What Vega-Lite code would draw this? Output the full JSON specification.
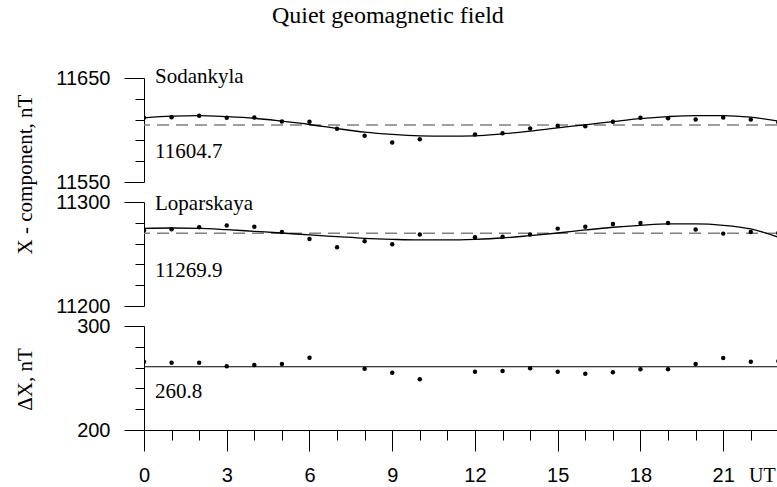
{
  "$schema": "https://vega.github.io/schema/vega-lite/v6.json",
  "autosize": {"type": "pad"},
  "padding": {"left": 14, "top": 4, "right": 0, "bottom": 0},
  "background": "white",
  "title": {"text": "Quiet geomagnetic field", "font": "Liberation Serif", "fontSize": 24, "fontWeight": "normal", "color": "black", "anchor": "middle", "dx": -8, "offset": 38},
  "bounds": "flush",
  "spacing": 20,
  "config": {
    "view": {"stroke": null},
    "axis": {"grid": false, "domainColor": "black", "tickColor": "black", "labelColor": "black", "titleColor": "black", "labelFont": "Liberation Sans", "labelFontSize": 20, "titleFont": "Liberation Serif", "titleFontSize": 21, "titleFontWeight": "normal", "labelOverlap": false, "labelFlush": false, "tickCount": 100}
  },
  "datasets": {
    "sod": [
      {"hour": 0, "value": 11611.7}, {"hour": 1, "value": 11612.3}, {"hour": 2, "value": 11613.6}, {"hour": 3, "value": 11611.7},
      {"hour": 4, "value": 11612.0}, {"hour": 5, "value": 11608.1}, {"hour": 6, "value": 11607.9}, {"hour": 7, "value": 11601.1},
      {"hour": 8, "value": 11594.4}, {"hour": 9, "value": 11588.0}, {"hour": 10, "value": 11591.2}, {"hour": 12, "value": 11595.7},
      {"hour": 13, "value": 11596.9}, {"hour": 14, "value": 11601.4}, {"hour": 15, "value": 11604.0}, {"hour": 16, "value": 11603.6},
      {"hour": 17, "value": 11607.9}, {"hour": 18, "value": 11611.7}, {"hour": 19, "value": 11611.3}, {"hour": 20, "value": 11610.1},
      {"hour": 21, "value": 11612.0}, {"hour": 22, "value": 11610.1}, {"hour": 23, "value": 11607.5}
    ],
    "sodfit": [
      {"hour": 0, "value": 11611.7}, {"hour": 1, "value": 11613.3}, {"hour": 2, "value": 11613.9}, {"hour": 3, "value": 11612.9},
      {"hour": 4, "value": 11611.3}, {"hour": 5, "value": 11608.5}, {"hour": 6, "value": 11605.3}, {"hour": 7, "value": 11601.4},
      {"hour": 8, "value": 11597.9}, {"hour": 9, "value": 11595.7}, {"hour": 10, "value": 11594.4}, {"hour": 11, "value": 11594.1},
      {"hour": 12, "value": 11594.4}, {"hour": 13, "value": 11596.3}, {"hour": 14, "value": 11598.9}, {"hour": 15, "value": 11602.1},
      {"hour": 16, "value": 11605.0}, {"hour": 17, "value": 11608.1}, {"hour": 18, "value": 11611.0}, {"hour": 19, "value": 11612.9},
      {"hour": 20, "value": 11613.9}, {"hour": 21, "value": 11613.9}, {"hour": 22, "value": 11612.3}, {"hour": 23, "value": 11608.5}
    ],
    "sodmean": [{"value": 11604.7}],
    "sodtext": [{"hour": 0, "value": 11644.9, "label": "Sodankyla"}, {"hour": 0, "value": 11572.8, "label": "11604.7"}],
    "lop": [
      {"hour": 0, "value": 11272.5}, {"hour": 1, "value": 11273.7}, {"hour": 2, "value": 11275.7}, {"hour": 3, "value": 11277.3},
      {"hour": 4, "value": 11276.3}, {"hour": 5, "value": 11271.2}, {"hour": 6, "value": 11264.4}, {"hour": 7, "value": 11256.4},
      {"hour": 8, "value": 11262.2}, {"hour": 9, "value": 11259.3}, {"hour": 10, "value": 11268.7}, {"hour": 12, "value": 11266.1},
      {"hour": 13, "value": 11266.7}, {"hour": 14, "value": 11268.7}, {"hour": 15, "value": 11274.4}, {"hour": 16, "value": 11276.3},
      {"hour": 17, "value": 11278.8}, {"hour": 18, "value": 11279.8}, {"hour": 19, "value": 11279.8}, {"hour": 20, "value": 11273.5},
      {"hour": 21, "value": 11269.6}, {"hour": 22, "value": 11271.2}, {"hour": 23, "value": 11270.2}
    ],
    "lopfit": [
      {"hour": 0, "value": 11274.7}, {"hour": 1, "value": 11275.0}, {"hour": 2, "value": 11274.7}, {"hour": 3, "value": 11273.4},
      {"hour": 4, "value": 11271.8}, {"hour": 5, "value": 11270.2}, {"hour": 6, "value": 11268.3}, {"hour": 7, "value": 11266.7},
      {"hour": 8, "value": 11265.1}, {"hour": 9, "value": 11264.1}, {"hour": 10, "value": 11263.5}, {"hour": 11, "value": 11263.5},
      {"hour": 12, "value": 11264.1}, {"hour": 13, "value": 11265.4}, {"hour": 14, "value": 11267.7}, {"hour": 15, "value": 11270.2},
      {"hour": 16, "value": 11273.1}, {"hour": 17, "value": 11275.7}, {"hour": 18, "value": 11277.6}, {"hour": 19, "value": 11278.9},
      {"hour": 20, "value": 11278.9}, {"hour": 21, "value": 11277.6}, {"hour": 22, "value": 11274.1}, {"hour": 23, "value": 11266.1}
    ],
    "lopmean": [{"value": 11269.9}],
    "loptext": [{"hour": 0, "value": 11292.3, "label": "Loparskaya"}, {"hour": 0, "value": 11228.3, "label": "11269.9"}],
    "dx": [
      {"hour": 0, "value": 265.7}, {"hour": 1, "value": 264.7}, {"hour": 2, "value": 264.7}, {"hour": 3, "value": 261.2},
      {"hour": 4, "value": 262.5}, {"hour": 5, "value": 263.5}, {"hour": 6, "value": 269.5}, {"hour": 8, "value": 258.9},
      {"hour": 9, "value": 255.1}, {"hour": 10, "value": 248.7}, {"hour": 12, "value": 256.1}, {"hour": 13, "value": 256.7},
      {"hour": 14, "value": 259.3}, {"hour": 15, "value": 256.1}, {"hour": 16, "value": 254.1}, {"hour": 17, "value": 255.5},
      {"hour": 18, "value": 258.4}, {"hour": 19, "value": 258.4}, {"hour": 20, "value": 263.5}, {"hour": 21, "value": 269.2},
      {"hour": 22, "value": 265.7}, {"hour": 23, "value": 266.3}
    ],
    "dxmean": [{"value": 260.8}],
    "dxtext": [{"hour": 0, "value": 230.5, "label": "260.8"}]
  },
  "vconcat": [
    {
      "width": 633, "height": 104,
      "layer": [
        {"data": {"name": "sodmean"}, "mark": {"type": "rule", "strokeDash": [12, 7], "color": "#808080", "strokeWidth": 1.5},
         "encoding": {"y": {"field": "value", "type": "quantitative", "scale": {"domain": [11550, 11650], "zero": false, "nice": false},
           "axis": {"values": [11550, 11570, 11590, 11610, 11630, 11650], "tickCount": 100, "format": "d", "labelOverlap": false,
             "labelExpr": "datum.value == 11550 || datum.value == 11650 ? datum.label : ''",
             "labelFontSize": {"condition": {"test": "datum.value == 11550 || datum.value == 11650", "value": 20}, "value": 0},
             "tickSize": {"condition": {"test": "datum.value == 11550 || datum.value == 11650", "value": 20}, "value": 9},
             "labelPadding": 14, "title": "X - component, nT", "titleX": -113, "titleY": 96, "titleAlign": "center", "titleBaseline": "alphabetic", "titleAngle": -90}}}},
        {"data": {"name": "sodfit"}, "mark": {"type": "line", "interpolate": "monotone", "color": "black", "strokeWidth": 1.3, "clip": true},
         "encoding": {"x": {"field": "hour", "type": "quantitative", "scale": {"domain": [0, 22.95], "nice": false}, "axis": null},
           "y": {"field": "value", "type": "quantitative"}}},
        {"data": {"name": "sod"}, "mark": {"type": "circle", "size": 20, "color": "black", "opacity": 1, "clip": true},
         "encoding": {"x": {"field": "hour", "type": "quantitative"}, "y": {"field": "value", "type": "quantitative"}}},
        {"data": {"name": "sodtext"}, "mark": {"type": "text", "align": "left", "baseline": "alphabetic", "dx": 11, "font": "Liberation Serif", "fontSize": 21, "color": "black"},
         "encoding": {"x": {"field": "hour", "type": "quantitative"}, "y": {"field": "value", "type": "quantitative"}, "text": {"field": "label"}}}
      ]
    },
    {
      "width": 633, "height": 104,
      "layer": [
        {"data": {"name": "lopmean"}, "mark": {"type": "rule", "strokeDash": [12, 7], "color": "#808080", "strokeWidth": 1.5},
         "encoding": {"y": {"field": "value", "type": "quantitative", "scale": {"domain": [11200, 11300], "zero": false, "nice": false},
           "axis": {"values": [11200, 11220, 11240, 11260, 11280, 11300], "tickCount": 100, "format": "d", "labelOverlap": false,
             "labelExpr": "datum.value == 11200 || datum.value == 11300 ? datum.label : ''",
             "labelFontSize": {"condition": {"test": "datum.value == 11200 || datum.value == 11300", "value": 20}, "value": 0},
             "tickSize": {"condition": {"test": "datum.value == 11200 || datum.value == 11300", "value": 20}, "value": 9},
             "labelPadding": 14, "title": null}}}},
        {"data": {"name": "lopfit"}, "mark": {"type": "line", "interpolate": "monotone", "color": "black", "strokeWidth": 1.3, "clip": true},
         "encoding": {"x": {"field": "hour", "type": "quantitative", "scale": {"domain": [0, 22.95], "nice": false}, "axis": null},
           "y": {"field": "value", "type": "quantitative"}}},
        {"data": {"name": "lop"}, "mark": {"type": "circle", "size": 20, "color": "black", "opacity": 1, "clip": true},
         "encoding": {"x": {"field": "hour", "type": "quantitative"}, "y": {"field": "value", "type": "quantitative"}}},
        {"data": {"name": "loptext"}, "mark": {"type": "text", "align": "left", "baseline": "alphabetic", "dx": 11, "font": "Liberation Serif", "fontSize": 21, "color": "black"},
         "encoding": {"x": {"field": "hour", "type": "quantitative"}, "y": {"field": "value", "type": "quantitative"}, "text": {"field": "label"}}}
      ]
    },
    {
      "width": 633, "height": 104,
      "layer": [
        {"data": {"name": "dxmean"}, "mark": {"type": "rule", "color": "black", "strokeWidth": 1.2},
         "encoding": {"y": {"field": "value", "type": "quantitative", "scale": {"domain": [200, 300], "zero": false, "nice": false},
           "axis": {"values": [200, 220, 240, 260, 280, 300], "tickCount": 100, "format": "d", "labelOverlap": false,
             "labelExpr": "datum.value == 200 || datum.value == 300 ? datum.label : ''",
             "labelFontSize": {"condition": {"test": "datum.value == 200 || datum.value == 300", "value": 20}, "value": 0},
             "tickSize": {"condition": {"test": "datum.value == 200 || datum.value == 300", "value": 20}, "value": 9},
             "labelPadding": 14, "title": "ΔX, nT", "titleX": -113, "titleY": 53, "titleAlign": "center", "titleBaseline": "alphabetic", "titleAngle": -90}}}},
        {"data": {"name": "dx"}, "mark": {"type": "circle", "size": 20, "color": "black", "opacity": 1, "clip": true},
         "encoding": {"x": {"field": "hour", "type": "quantitative", "scale": {"domain": [0, 22.95], "nice": false},
           "axis": {"values": [0, 1, 2, 3, 4, 5, 6, 7, 8, 9, 10, 11, 12, 13, 14, 15, 16, 17, 18, 19, 20, 21, 22, 22.4], "tickCount": 100, "labelOverlap": false,
             "labelExpr": "datum.value > 22.2 ? 'UT' : (datum.value % 3 == 0 ? format(datum.value, 'd') : '')",
             "tickSize": {"condition": {"test": "datum.value % 3 == 0 || datum.value > 22.2", "value": 21}, "value": 10},
             "tickOpacity": {"condition": {"test": "datum.value > 22.2", "value": 0}, "value": 1},
             "labelFont": {"condition": {"test": "datum.value > 22.2", "value": "Liberation Serif"}, "value": "Liberation Sans"},
             "labelFontSize": {"condition": {"test": "datum.value % 3 == 0 || datum.value > 22.2", "value": 20}, "value": 0},
             "labelPadding": 14, "labelBaseline": "top", "title": null}},
           "y": {"field": "value", "type": "quantitative"}}},
        {"data": {"name": "dxtext"}, "mark": {"type": "text", "align": "left", "baseline": "alphabetic", "dx": 11, "font": "Liberation Serif", "fontSize": 21, "color": "black"},
         "encoding": {"x": {"field": "hour", "type": "quantitative"}, "y": {"field": "value", "type": "quantitative"}, "text": {"field": "label"}}}
      ]
    }
  ]
}
